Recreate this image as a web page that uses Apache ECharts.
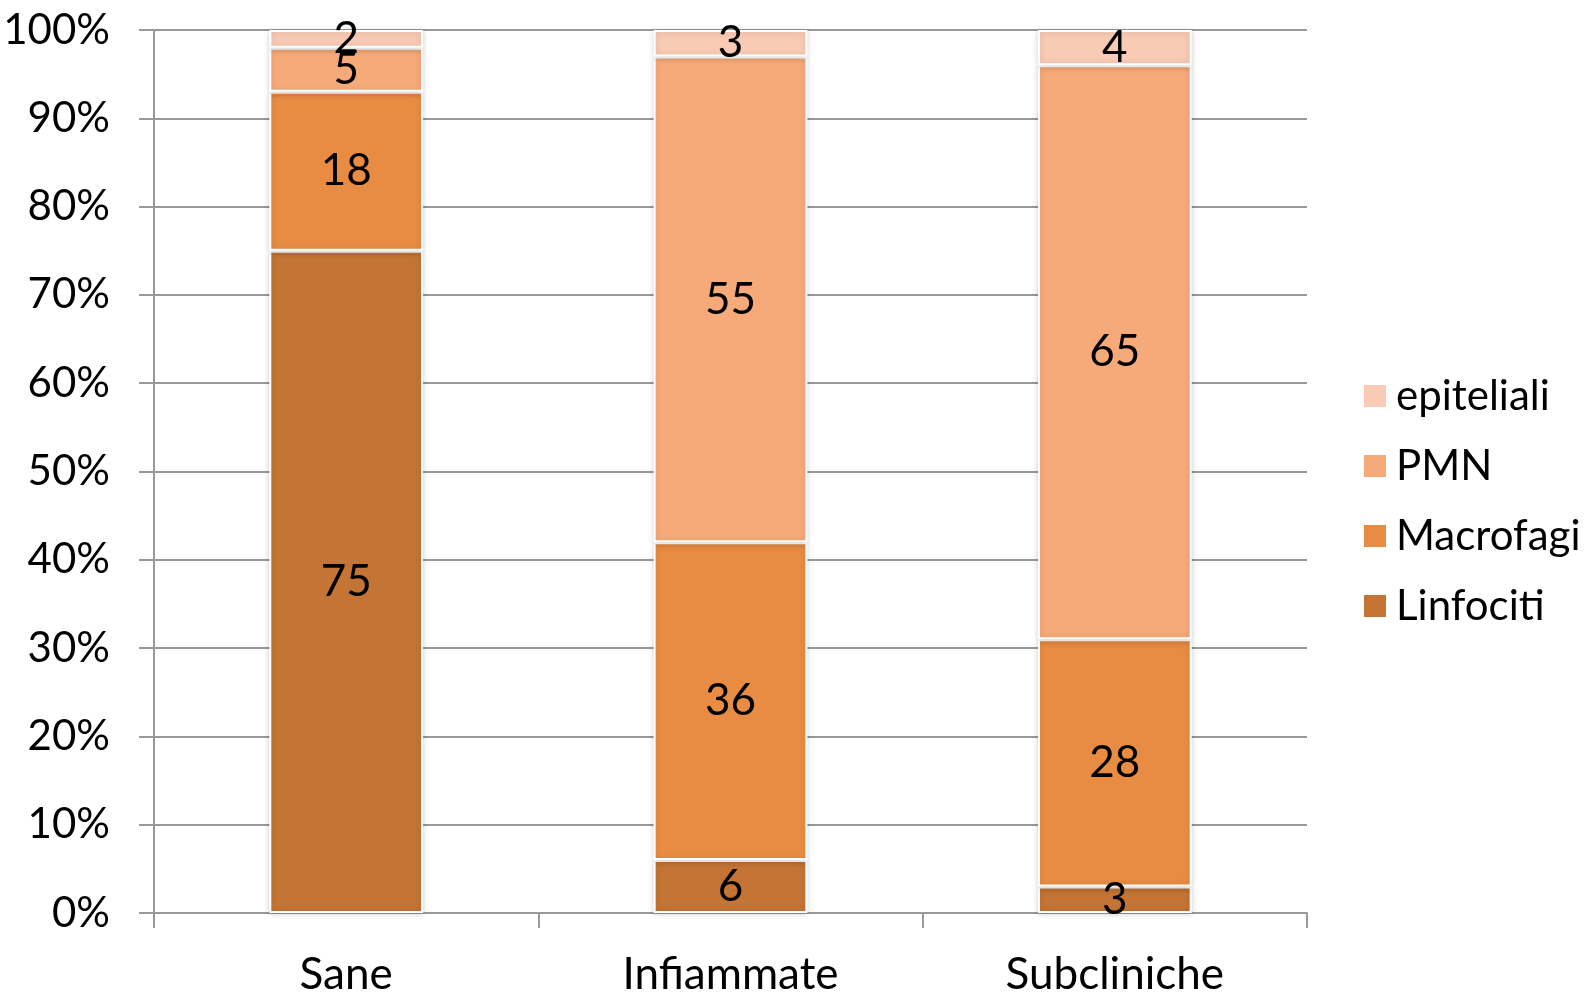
<!DOCTYPE html>
<html><head><meta charset="utf-8">
<script src="https://cdn.jsdelivr.net/npm/echarts@6/dist/echarts.min.js"></script>
<style>html,body{margin:0;padding:0;background:#fff}#c{width:1596px;height:993px}</style>
</head><body><div id="c"></div>
<script>
const categories = ['Sane', 'Infiammate', 'Subcliniche'];
const linfociti = [75, 6, 3];
const macrofagi = [18, 36, 28];
const pmn = [5, 55, 65];
const epiteliali = [2, 3, 4];
const yTicks = [0, 10, 20, 30, 40, 50, 60, 70, 80, 90, 100];

const FONT = 'Lato';
const chart = echarts.init(document.getElementById('c'));
function mk(name, data, color) {
  return {
    name, type: 'bar', stack: 'a', data, barWidth: '40%',
    itemStyle: { color, borderColor: '#fff', borderWidth: 2, shadowColor: 'rgba(0,0,0,0.18)', shadowBlur: 6, shadowOffsetX: 0, shadowOffsetY: 1 },
    label: { show: true, position: 'inside', color: '#000', fontFamily: FONT, fontSize: 44 },
    emphasis: { disabled: true }
  };
}
chart.setOption({
  animation: false,
  grid: { left: 154, top: 30, right: 289, bottom: 80, outerBoundsMode: 'none', containLabel: false },
  legend: {
    orient: 'vertical', left: 1357, top: 370, itemWidth: 24, itemHeight: 24, itemGap: 28,
    icon: 'rect',
    textStyle: { fontFamily: FONT, fontSize: 42, color: '#000', padding: [0,0,0,4] },
    data: ['epiteliali', 'PMN', 'Macrofagi', 'Linfociti']
  },
  xAxis: {
    type: 'category', data: categories,
    axisLine: { lineStyle: { color: '#999', width: 2 } },
    axisTick: { show: true, length: 15, lineStyle: { color: '#999', width: 2 } },
    axisLabel: { fontFamily: FONT, fontSize: 44, color: '#000', margin: 40 }
  },
  yAxis: {
    type: 'value', min: 0, max: 100, interval: 10,
    axisLine: { show: true, lineStyle: { color: '#999', width: 2 } },
    axisTick: { show: true, length: 15, lineStyle: { color: '#999', width: 2 } },
    splitLine: { lineStyle: { color: '#999', width: 2 } },
    axisLabel: { fontFamily: FONT, fontSize: 42, color: '#000', margin: 44,
      formatter: v => yTicks.includes(v) ? v + '%' : '' }
  },
  series: [
    mk('Linfociti', linfociti, '#C47535'),
    mk('Macrofagi', macrofagi, '#E88C43'),
    mk('PMN', pmn, '#F7AA79'),
    mk('epiteliali', epiteliali, '#F9CBB5')
  ]
});
</script></body></html>
